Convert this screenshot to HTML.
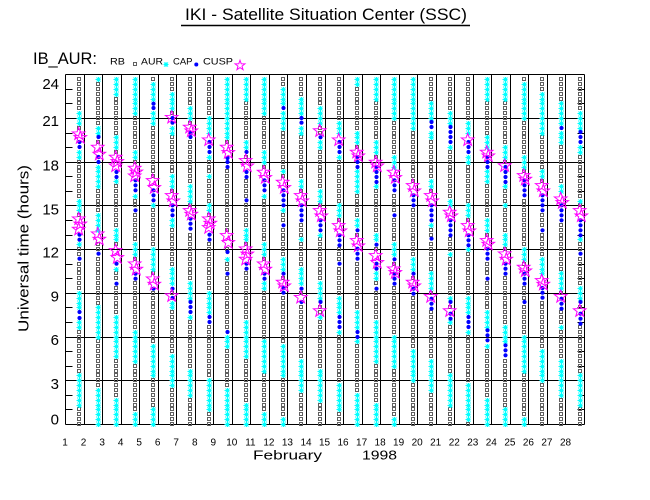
<!DOCTYPE html>
<html>
<head>
<meta charset="utf-8">
<style>
  html,body{margin:0;padding:0;background:#fff;}
  svg{display:block;}
  text{font-family:"Liberation Sans",Arial,sans-serif;fill:#000;}
</style>
</head>
<body>
<svg id="chart" xmlns="http://www.w3.org/2000/svg" width="650" height="500" viewBox="0 0 650 500">
  <rect x="0" y="0" width="650" height="500" fill="#fff"/>
  <!-- Title -->
  <text x="185" y="20" font-size="17" textLength="282" lengthAdjust="spacingAndGlyphs">IKI - Satellite Situation Center (SSC)</text>
  <line x1="181" y1="25.5" x2="470" y2="25.5" stroke="#000" stroke-width="1.5"/>
  <!-- Header / legend -->
  <text x="33" y="64" font-size="17" textLength="64" lengthAdjust="spacingAndGlyphs">IB_AUR:</text>
  <text x="110" y="64.5" font-size="9.5" textLength="15" lengthAdjust="spacingAndGlyphs">RB</text>
  <rect x="133.5" y="62.5" width="3" height="3" fill="none" stroke="#606060" stroke-width="1"/>
  <text x="141" y="64.5" font-size="9.5" textLength="22" lengthAdjust="spacingAndGlyphs">AUR</text>
  <path d="M163.5 64.5h5M166 62v5M164 62.5l4 4M164 66.5l4-4" stroke="#00ffff" stroke-width="1" fill="none"/>
  <text x="173" y="64.5" font-size="9.5" textLength="19.5" lengthAdjust="spacingAndGlyphs">CAP</text>
  <circle cx="196.3" cy="64.5" r="2" fill="#0000ff"/>
  <text x="203" y="64.5" font-size="9.5" textLength="30" lengthAdjust="spacingAndGlyphs">CUSP</text>
  <path id="legstar" d="" fill="none" stroke="#ff00ff" stroke-width="1"/>

  <!-- Y axis title -->
  <text x="0" y="0" font-size="15" text-anchor="middle" textLength="167" lengthAdjust="spacingAndGlyphs" transform="translate(28.5,248.5) rotate(-90)">Universal time (hours)</text>

  <!-- Y labels -->
  <g font-size="15" text-anchor="end">
    <text x="59" y="89">24</text>
    <text x="59" y="126">21</text>
    <text x="59" y="170.5">18</text>
    <text x="59" y="214.5">15</text>
    <text x="59" y="257.5">12</text>
    <text x="59" y="301.5">9</text>
    <text x="59" y="345">6</text>
    <text x="59" y="389">3</text>
    <text x="59" y="424.5">0</text>
  </g>

  <!-- X labels -->
  <g font-size="10" text-anchor="middle">
    <text x="65.0" y="445.5">1</text>
    <text x="83.5" y="445.5">2</text>
    <text x="102.1" y="445.5">3</text>
    <text x="120.6" y="445.5">4</text>
    <text x="139.1" y="445.5">5</text>
    <text x="157.7" y="445.5">6</text>
    <text x="176.2" y="445.5">7</text>
    <text x="194.8" y="445.5">8</text>
    <text x="213.3" y="445.5">9</text>
    <text x="231.8" y="445.5">10</text>
    <text x="250.4" y="445.5">11</text>
    <text x="268.9" y="445.5">12</text>
    <text x="287.4" y="445.5">13</text>
    <text x="306.0" y="445.5">14</text>
    <text x="324.5" y="445.5">15</text>
    <text x="343.0" y="445.5">16</text>
    <text x="361.6" y="445.5">17</text>
    <text x="380.1" y="445.5">18</text>
    <text x="398.6" y="445.5">19</text>
    <text x="417.2" y="445.5">20</text>
    <text x="435.7" y="445.5">21</text>
    <text x="454.3" y="445.5">22</text>
    <text x="472.8" y="445.5">23</text>
    <text x="491.3" y="445.5">24</text>
    <text x="509.9" y="445.5">25</text>
    <text x="528.4" y="445.5">26</text>
    <text x="546.9" y="445.5">27</text>
    <text x="565.5" y="445.5">28</text>
  </g>
  <text x="253" y="459.5" font-size="13" textLength="69" lengthAdjust="spacingAndGlyphs">February</text>
  <text x="362" y="459.5" font-size="13" textLength="35" lengthAdjust="spacingAndGlyphs">1998</text>

  <g id="grid"></g>
  <path id="sq" d="" fill="none" stroke="#606060" stroke-width="1"/>
  <path id="cy" d="" fill="none" stroke="#00ffff" stroke-width="1"/>
  <g id="bl" fill="#0000ff"></g>
  <path id="st" d="" fill="none" stroke="#ff00ff" stroke-width="1"/>
</svg>
<script>
(function(){
  var NS="http://www.w3.org/2000/svg";
  var X0=65, X1=584, Y0=74.3, Y1=424;
  var dx=(X1-X0)/28, hp=(Y1-Y0)/24;
  function yz(z){return 72+z/3;}
  function starPath(cx,cy,R,r){
    var s="";
    for(var k=0;k<10;k++){
      var a=(-90+k*36)*Math.PI/180, rr=(k%2==0)?R:r;
      s+=(k==0?"M":"L")+(cx+rr*Math.cos(a)).toFixed(2)+" "+(cy+rr*Math.sin(a)).toFixed(2);
    }
    return s+"Z";
  }
  document.getElementById("legstar").setAttribute("d",starPath(240,65.5,5.2,2.1));

  // grid
  var g=document.getElementById("grid"), gd="";
  var yt=74.5, yb=424.5;
  for(var k=0;k<=28;k++){
    var x=Math.round(X0+k*dx)+0.5;
    gd+="M"+x+" "+yt+"V"+yb;
  }
  for(var h=0;h<=24;h+=3){
    var y=(h==24)?74.5:Math.round(Y1-h*hp)+0.5;
    gd+="M65.5 "+y+"H584.5";
  }
  for(var h=1;h<24;h++){
    var y=Math.round(Y1-h*hp)+0.5;
    gd+="M65.5 "+y+"H72.5M584.5 "+y+"H577.5";
  }
  var gp=document.createElementNS(NS,"path");
  gp.setAttribute("d",gd);gp.setAttribute("stroke","#000");gp.setAttribute("stroke-width","1");gp.setAttribute("fill","none");
  g.appendChild(gp);

  var D=[
   [[[115,160],[230,260],[380,420],[505,520],[655,770],[905,1005]],[210,225,488,503,560,720,738],[[165,215],[420,490]]],
   [[[15,30],[160,195],[270,345],[420,470],[700,800],[945,1060]],[195,255,270,545],[[205,265],[465,520]]],
   [[[15,75],[190,230],[315,335],[470,510],[585,600],[730,850],[975,1060]],[300,315,575,635],[[235,300],[515,575]]],
   [[[15,120],[235,265],[365,375],[510,555],[775,875],[1020,1060]],[325,340,355,415,605,620],[[268,330],[555,610]]],
   [[[30,150],[385,410],[535,600],[820,920],[1010,1060]],[95,108,355,370,385,650],[[305,365],[600,655]]],
   [[[60,115],[155,190],[310,350],[440,455],[585,650],[690,710],[845,950]],[138,152,400,415,430,650,678],[[120,150],[350,405],[658,682]]],
   [[[100,145],[345,395],[625,745],[890,975]],[183,195,440,455,470,690,705,720],[[145,195],[395,445]]],
   [[[130,180],[240,265],[310,320],[400,420],[655,760],[920,1020]],[210,225,240,488,503,735,750],[[180,225],[420,485]]],
   [[[15,200],[555,570],[780,820],[945,1060]],[258,270,285,540,605,780],[[205,260],[470,530]]],
   [[[15,90],[205,235],[470,510],[745,850],[995,1060]],[240,300,315,385,575,590],[[245,300],[510,580]]],
   [[[15,120],[235,275],[360,375],[515,550],[630,645],[800,905],[1020,1060]],[325,340,355,605,620],[[280,335],[555,610]]],
   [[[45,165],[290,305],[410,420],[555,600],[820,920],[1045,1060]],[108,355,370,385,400,460,605,648,662],[[310,365],[610,660]]],
   [[[75,190],[320,350],[500,510],[585,650],[860,960]],[138,152,400,415,430,445,650,690],[[350,405],[660,690]]],
   [[[100,150],[200,235],[350,395],[485,495],[630,690],[730,745],[890,990]],[196,445,460,475,690],[[160,190],[395,450],[700,730]]],
   [[[150,185],[245,260],[400,435],[670,785],[935,1020]],[210,225,240,490,505,520,575,735,750,765],[[185,220],[440,495]]],
   [[[15,35],[180,215],[285,365],[440,470],[720,815],[960,1060]],[255,270,285,475,530,545,560,780,795],[[220,270],[485,540]]],
   [[[15,90],[205,245],[330,350],[485,525],[600,615],[745,865],[995,1060]],[285,300,315,330,518,575,590,650],[[250,300],[530,590]]],
   [[[15,135],[250,280],[510,560],[790,890],[1035,1060]],[325,340,355,430,562,605,620,635],[[280,335],[570,620]]],
   [[[15,165],[555,605],[830,935]],[370,385,400,605,650,665],[[320,375],[610,660]]],
   [[[90,135],[175,205],[330,350],[455,465],[600,650],[865,960]],[150,165,400,415,430,445,500,680,695,710],[[350,405],[655,690]]],
   [[[120,160],[215,235],[380,400],[545,555],[670,690],[745,760],[905,1005]],[165,180,195,210,445,460,475,490,690,725,740],[[400,450],[700,730]]],
   [[[150,185],[245,275],[400,440],[525,540],[670,785],[935,1040]],[210,225,240,490,505,520,735,750,765],[[185,220],[440,495]]],
   [[[15,90],[200,225],[285,325],[440,480],[720,830],[975,1060]],[255,270,285,530,545,560,620,775,790,805],[[220,270],[485,535]]],
   [[[15,90],[215,260],[335,345],[395,405],[485,525],[760,860],[1005,1060]],[285,300,315,330,575,590,605,820,835,850],[[260,300],[525,580]]],
   [[[35,135],[250,290],[370,380],[530,560],[790,905],[1040,1060]],[325,340,355,370,605,620,635,690],[[290,340],[565,615]]],
   [[[60,180],[300,320],[555,605],[830,935]],[370,385,400,415,475,648,662,677],[[320,375],[605,655]]],
   [[[90,210],[340,360],[600,650],[755,775],[870,975]],[168,400,415,430,445,680,695,710],[[360,410],[655,690]]],
   [[[120,165],[215,245],[380,395],[500,510],[640,690],[905,1005]],[180,195,210,445,460,475,490,545,690,725,740,755],[[395,450],[700,730]]]
  ];

  var sq="", cy="", st="", bl=document.getElementById("bl");
  var pitch=hp/3;
  for(var d=1;d<=28;d++){
    var dat=D[d-1], segs=dat[0], blues=dat[1], stars=dat[2];
    var cx=Math.round(X0+d*dx-4.5);
    var byl=blues.map(yz);
    var sr=stars.map(function(s){return [yz(s[0]),yz(s[1])];});
    for(var i=0;i<72;i++){
      var y=Y1-i*pitch, z=(y-72)*3, skip=false;
      for(var j=0;j<sr.length;j++){ if(y>sr[j][0]+3.5 && y<sr[j][1]-3.5){skip=true;break;} }
      if(!skip) for(var j=0;j<byl.length;j++){ if(Math.abs(y-byl[j])<2.4){skip=true;break;} }
      if(skip) continue;
      var isC=false;
      for(var j=0;j<segs.length;j++){ if(z>=segs[j][0]-4 && z<=segs[j][1]+4){isC=true;break;} }
      var yr=Math.round(y);
      if(isC){
        cy+="M"+(cx-2.5)+" "+(yr+0.5)+"h5M"+(cx+0.5)+" "+(yr-2)+"v5M"+(cx-1.5)+" "+(yr-1.5)+"l4 4M"+(cx-1.5)+" "+(yr+2.5)+"l4 -4";
      } else {
        sq+="M"+(cx-1.5)+" "+(yr-1.5)+"h3v3h-3z";
      }
    }
    for(var j=0;j<byl.length;j++){
      var c=document.createElementNS(NS,"circle");
      c.setAttribute("cx",cx+0.5);c.setAttribute("cy",byl[j].toFixed(1));c.setAttribute("r","2.1");
      bl.appendChild(c);
    }
    for(var j=0;j<sr.length;j++){
      var a=sr[j][0], b=sr[j][1], span=b-a-13, n, step;
      if(span<=1){n=1;step=0;} else {n=Math.round(span/4.86)+1;step=span/(n-1);}
      for(var k=0;k<n;k++){
        var sy=(n==1)?(a+b)/2+0.5:a+6.5+k*step+0.5;
        var sx=cx+0.5+((k%2==0)?-0.8:0.8);
        st+=starPath(sx,sy,6.6,2.7);
      }
    }
  }
  document.getElementById("sq").setAttribute("d",sq);
  document.getElementById("cy").setAttribute("d",cy);
  document.getElementById("st").setAttribute("d",st);
})();
</script>
</body>
</html>
